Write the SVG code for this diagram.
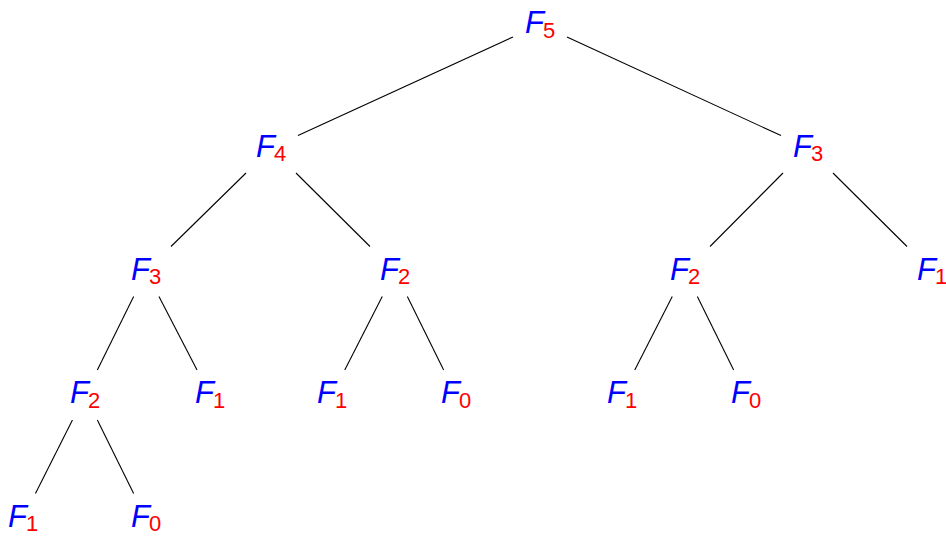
<svg xmlns="http://www.w3.org/2000/svg" width="946" height="536" viewBox="0 0 946 536">
<style>
.bg{fill:#fff}
text{font-family:"Liberation Sans",Arial,sans-serif}
.F{fill:#0000ff;font-style:italic;font-size:31px}
.s{fill:#ff0000;font-size:22px}
#edges line{stroke:#000;stroke-width:1.1}
</style>
<rect class="bg" x="0" y="0" width="946" height="536"/>
<g id="edges">
<line x1="513" y1="36.9" x2="298" y2="135.6"/>
<line x1="567" y1="36.9" x2="781" y2="135.6"/>
<line x1="246" y1="173" x2="171" y2="246.5"/>
<line x1="296" y1="173" x2="370" y2="246.5"/>
<line x1="783" y1="173" x2="710" y2="246.5"/>
<line x1="833" y1="173" x2="907" y2="246.5"/>
<line x1="133.65" y1="296.5" x2="97.35" y2="370"/>
<line x1="158.96" y1="296.5" x2="197.04" y2="370"/>
<line x1="382.25" y1="296.5" x2="344.75" y2="370"/>
<line x1="407.35" y1="296.5" x2="443.65" y2="370"/>
<line x1="672.25" y1="296.5" x2="634.75" y2="370"/>
<line x1="697.35" y1="296.5" x2="733.65" y2="370"/>
<line x1="72.45" y1="420" x2="35.45" y2="493.5"/>
<line x1="97.35" y1="420" x2="133.65" y2="493.5"/>
</g>
<g id="n0"><text x="525" y="33.3"><tspan class="F">F</tspan><tspan class="s" x="543" dy="4.5">5</tspan></text></g>
<g id="n1"><text x="256" y="156.6"><tspan class="F">F</tspan><tspan class="s" x="274" dy="4.5">4</tspan></text></g>
<g id="n2"><text x="793" y="156.6"><tspan class="F">F</tspan><tspan class="s" x="811" dy="4.5">3</tspan></text></g>
<g id="n3"><text x="131" y="279.9"><tspan class="F">F</tspan><tspan class="s" x="149" dy="4.5">3</tspan></text></g>
<g id="n4"><text x="380" y="279.9"><tspan class="F">F</tspan><tspan class="s" x="398" dy="4.5">2</tspan></text></g>
<g id="n5"><text x="670" y="279.9"><tspan class="F">F</tspan><tspan class="s" x="688" dy="4.5">2</tspan></text></g>
<g id="n6"><text x="917" y="279.9"><tspan class="F">F</tspan><tspan class="s" x="935" dy="4.5">1</tspan></text></g>
<g id="n7"><text x="70" y="403.2"><tspan class="F">F</tspan><tspan class="s" x="88" dy="4.5">2</tspan></text></g>
<g id="n8"><text x="195" y="403.2"><tspan class="F">F</tspan><tspan class="s" x="213" dy="4.5">1</tspan></text></g>
<g id="n9"><text x="317" y="403.2"><tspan class="F">F</tspan><tspan class="s" x="335" dy="4.5">1</tspan></text></g>
<g id="n10"><text x="441" y="403.2"><tspan class="F">F</tspan><tspan class="s" x="459" dy="4.5">0</tspan></text></g>
<g id="n11"><text x="607" y="403.2"><tspan class="F">F</tspan><tspan class="s" x="625" dy="4.5">1</tspan></text></g>
<g id="n12"><text x="731" y="403.2"><tspan class="F">F</tspan><tspan class="s" x="749" dy="4.5">0</tspan></text></g>
<g id="n13"><text x="8" y="526.5"><tspan class="F">F</tspan><tspan class="s" x="26" dy="4.5">1</tspan></text></g>
<g id="n14"><text x="131" y="526.5"><tspan class="F">F</tspan><tspan class="s" x="149" dy="4.5">0</tspan></text></g>
</svg>
